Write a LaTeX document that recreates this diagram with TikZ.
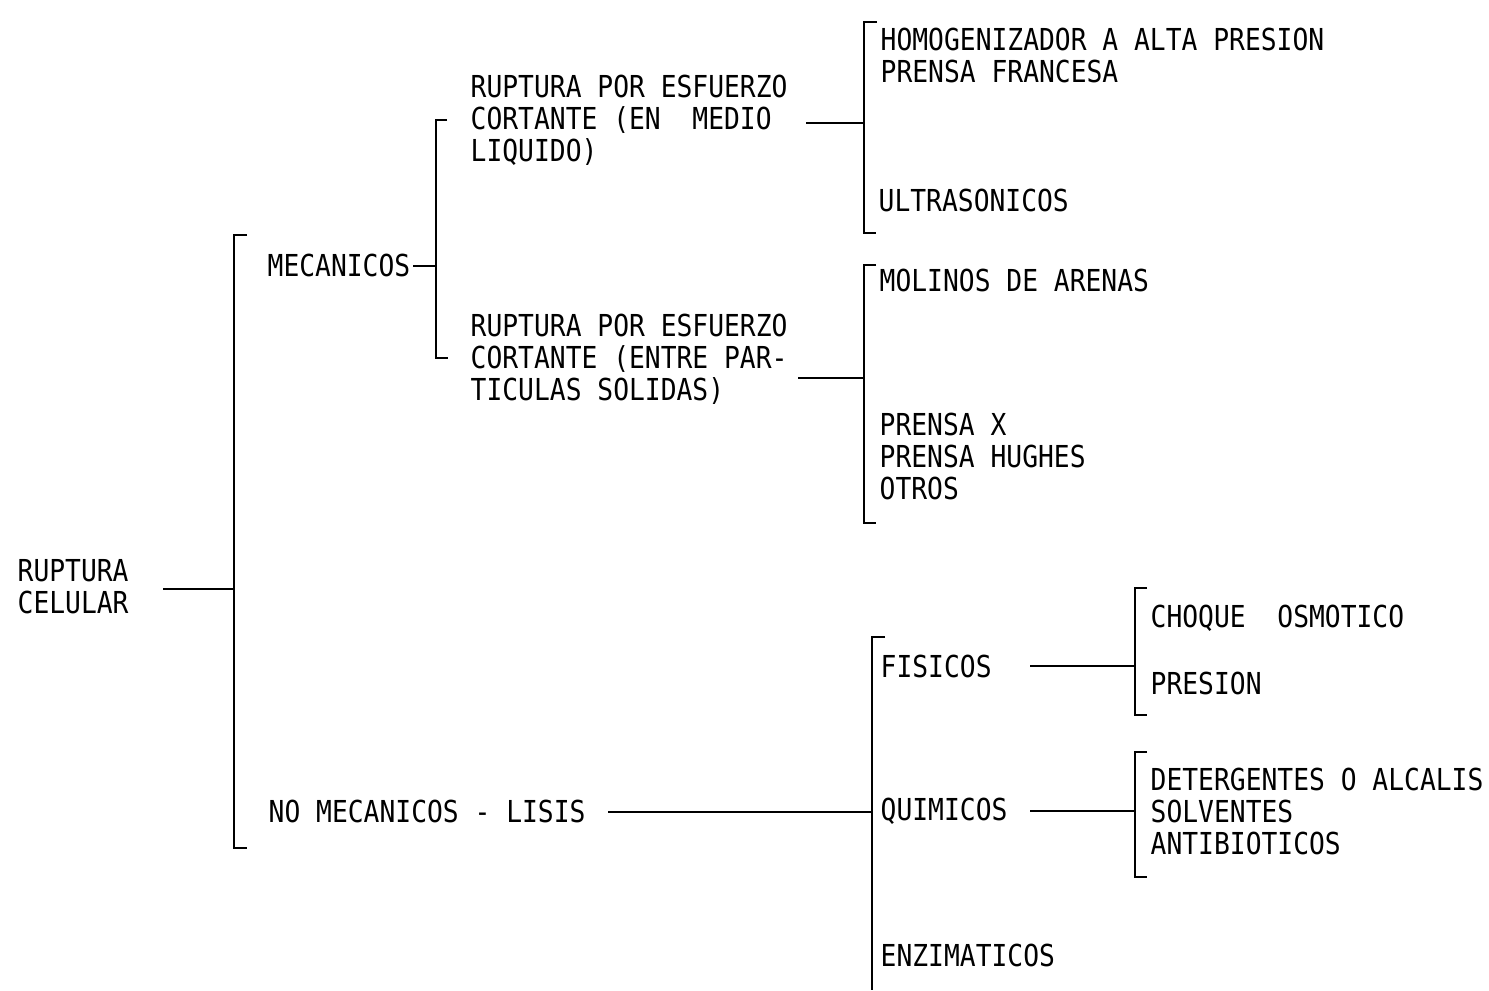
\documentclass[tikz,border=0pt]{standalone}
\usepackage{fontspec}
\setmonofont[FakeStretch=0.87]{DejaVu Sans Mono}
\usepackage{tikz}

\tikzset{
  txt/.style={anchor=west,inner sep=0pt,align=left,
    font=\ttfamily\fontsize{8.6}{9.1}\selectfont},
  brace/.style={line width=0.8pt},
  link/.style={line width=0.7pt}
}

\begin{document}
\begin{tikzpicture}[x=0.01cm,y=-0.01cm]
  \useasboundingbox (0,0) rectangle (1489,990);
  % texts
  \node[txt] (ruptura) at (17,587) {RUPTURA\\CELULAR};
  \node[txt] (mec) at (267,265) {MECANICOS};
  \node[txt] (liq) at (470,120) {RUPTURA POR ESFUERZO\\CORTANTE (EN\ \ MEDIO\\LIQUIDO)};
  \node[txt] (sol) at (470,359) {RUPTURA POR ESFUERZO\\CORTANTE (ENTRE PAR-\\TICULAS SOLIDAS)};
  \node[txt] (homo) at (880,55) {HOMOGENIZADOR A ALTA PRESION\\PRENSA FRANCESA};
  \node[txt] (ultra) at (878,200) {ULTRASONICOS};
  \node[txt] (molinos) at (879,280) {MOLINOS DE ARENAS};
  \node[txt] (prensas) at (879,456) {PRENSA X\\PRENSA HUGHES\\OTROS};
  \node[txt] (nomec) at (268,811) {NO MECANICOS - LISIS};
  \node[txt] (fis) at (880,666) {FISICOS};
  \node[txt] (quim) at (880,811) {QUIMICOS};
  \node[txt] (enz) at (880,955) {ENZIMATICOS};
  \node[txt] (choque) at (1150,618) {CHOQUE\ \ OSMOTICO};
  \node[txt] (pres) at (1150,683) {PRESION};
  \node[txt] (deter) at (1150,811) {DETERGENTES O ALCALIS\\SOLVENTES\\ANTIBIOTICOS};

  % brackets
  \coordinate (b1t) at (234,235); \coordinate (b1b) at (234,848);
  \coordinate (b2t) at (436,120); \coordinate (b2b) at (436,358);
  \coordinate (b3t) at (864,22);  \coordinate (b3b) at (864,233);
  \coordinate (b4t) at (864,265); \coordinate (b4b) at (864,523);
  \coordinate (b5t) at (872,637); \coordinate (b5b) at (872,990);
  \coordinate (b6t) at (1135,588); \coordinate (b6b) at (1135,715);
  \coordinate (b7t) at (1135,752); \coordinate (b7b) at (1135,877);
  \draw[brace] (b1t) ++(13,0) -- (b1t) -- (b1b) -- ++(13,0);
  \draw[brace] (b2t) ++(11,0) -- (b2t) -- (b2b) -- ++(12,0);
  \draw[brace] (b3t) ++(13,0) -- (b3t) -- (b3b) -- ++(12,0);
  \draw[brace] (b4t) ++(12,0) -- (b4t) -- (b4b) -- ++(12,0);
  \draw[brace] (b5t) ++(13,0) -- (b5t) -- (b5b);
  \draw[brace] (b6t) ++(12,0) -- (b6t) -- (b6b) -- ++(12,0);
  \draw[brace] (b7t) ++(12,0) -- (b7t) -- (b7b) -- ++(12,0);

  % connectors
  \coordinate (c1) at (163,589);
  \coordinate (c2) at (413,266);
  \coordinate (c3) at (806,123);
  \coordinate (c4) at (798,378);
  \coordinate (c5) at (608,812);
  \coordinate (c6) at (1030,666);
  \coordinate (c7) at (1030,811);
  \draw[link] (c1) -- (c1 -| b1t);
  \draw[link] (c2) -- (c2 -| b2t);
  \draw[link] (c3) -- (c3 -| b3t);
  \draw[link] (c4) -- (c4 -| b4t);
  \draw[link] (c5) -- (c5 -| b5t);
  \draw[link] (c6) -- (c6 -| b6t);
  \draw[link] (c7) -- (c7 -| b7t);
\end{tikzpicture}
\end{document}
